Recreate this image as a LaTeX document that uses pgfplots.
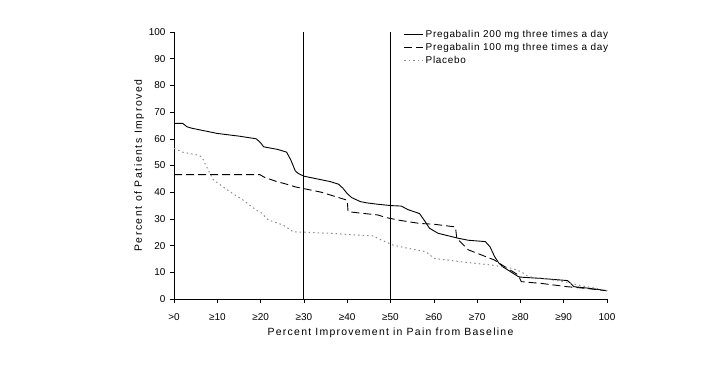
\documentclass[border=0pt]{standalone}
\usepackage{fontspec}
\setmainfont{Liberation Sans}
\newfontfamily\xlabfont[LetterSpace=12]{Liberation Sans}
\newfontfamily\ylabfont[LetterSpace=15]{Liberation Sans}
\newfontfamily\legfont[LetterSpace=7]{Liberation Sans}
\usepackage{pgfplots}
\pgfplotsset{compat=1.18}
\begin{document}
\begin{tikzpicture}[x=1bp,y=1bp]
\path[use as bounding box] (0,0) rectangle (726,368);
\begin{axis}[
  at={(174bp,69bp)}, anchor=south west,
  width=433bp, height=267bp, scale only axis,
  xmin=0, xmax=100, ymin=0, ymax=100,
  axis lines=left, axis line style={-, line width=0.8pt},
  tick style={black, line width=0.6pt},
  tick align=outside, major tick length=4bp,
  xtick={0,10,20,30,40,50,60,70,80,90,100},
  xticklabels={>0,≥10,≥20,≥30,≥40,≥50,≥60,≥70,≥80,≥90,100},
  ytick={0,10,...,100},
  ticklabel style={font=\fontsize{10}{12}\selectfont},
  /pgf/number format/assume math mode=true,
  xticklabel style={yshift=-7bp},
  yticklabel style={xshift=-1bp},
  xlabel={\xlabfont Percent Improvement in Pain from Baseline},
  ylabel={\ylabfont Percent of Patients Improved},
  label style={font=\fontsize{10.5}{12}\selectfont},
  xlabel style={yshift=-1bp},
  ylabel style={yshift=-2bp},
  legend style={at={(axis cs:53,101.5)}, anchor=north west, draw=none, fill=none,
    font=\fontsize{10}{12}\legfont, row sep=0.5bp, inner sep=0pt},
  legend cell align=left,
  legend image code/.code={\draw[#1] (0bp,0bp) -- (19bp,0bp);},
  clip=false,
]
\addplot[black, line width=0.9pt] coordinates {
(0,65.8)(2,65.8)(3,64.5)(4,64)(7,63)(10,62)(15,61)(19,60)(20,58.5)(20.7,57)(24,56)(26,55)(27,52)(28,48)(28.7,47)(30,46)(33,45)(36,44)(38,43)(39,41.5)(40,39.5)(41,38)(43,36.5)(44.5,36)(47,35.5)(50,35)(52.5,34.8)(54,33.5)(56.7,32)(58,29)(59,26.5)(61,24.6)(65.8,22.7)(68,22)(71.9,21.5)(73,19.5)(74,16)(75,13.5)(76,12)(79.5,8.4)(80,8.2)(84.8,7.7)(90.9,6.9)(92.4,4.6)(96,4)(100,3.1)};
\addlegendentry{Pregabalin 200 mg three times a day}
\addplot[black, line width=0.9pt, dash pattern=on 8bp off 4bp] coordinates {
(0,46.6)(19.8,46.6)(21,45.5)(23.7,44)(26,43)(28,42)(31,41)(34,40)(39,37.5)(40,37)(40.2,32.7)(44,32)(47,31.5)(49,30.5)(52,29.5)(56.7,28.3)(60,28)(65,27)(65.3,22.7)(68,18.4)(71,16.5)(74,14.6)(76,12.5)(78,10.5)(79.5,9)(80.2,6.5)(85,5.8)(90.9,4.6)(95,4)(100,3.1)};
\addlegendentry{Pregabalin 100 mg three times a day}
\addplot[black!45, line width=1pt, dash pattern=on 1.5bp off 3bp] coordinates {
(0,56.4)(2,55)(5.2,54)(6.4,53.3)(8,48)(9.1,44.6)(12.9,40.2)(16,37)(19,33.3)(20,32.5)(21.8,29.6)(25.2,27.7)(27.5,25.2)(36,24.6)(42,24)(46,23.6)(48,22)(50.6,20.2)(54,19)(58.2,17.7)(60.1,15.2)(66,14)(73.4,12.7)(78,11.5)(80.2,10.2)(81.8,8.4)(86,7.5)(90,6.5)(94,5)(100,3.2)};
\addlegendentry{Placebo}
\addplot[black, line width=0.9pt, forget plot] coordinates {(30,0)(30,100)};
\addplot[black, line width=0.9pt, forget plot] coordinates {(50,0)(50,100)};
\end{axis}
\end{tikzpicture}
\end{document}
